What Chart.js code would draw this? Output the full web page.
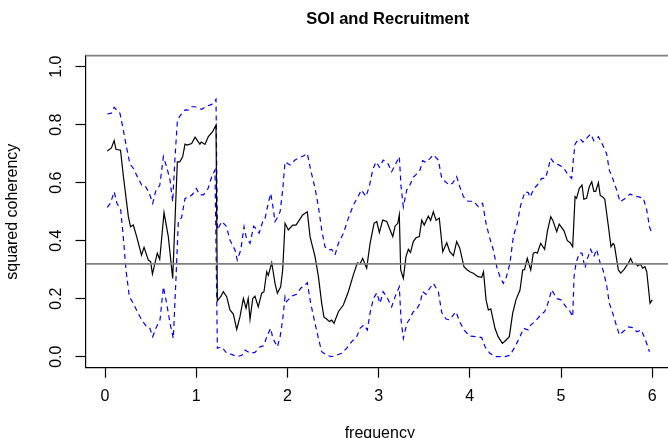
<!DOCTYPE html>
<html>
<head>
<meta charset="utf-8">
<title>SOI and Recruitment</title>
<script src="https://cdn.jsdelivr.net/npm/chart.js@4"></script>
<style>
  html, body { margin: 0; padding: 0; background: #fff; }
  #graphe { display: block; }
</style>
</head>
<body>
<canvas id="graphe" width="668" height="438"></canvas>
<script>
// Cohérence au carré SOI / Recrutement, avec bandes de confiance
// (tirets bleus) et seuil de significativité (trait gris).

const FONTE = "'Liberation Sans', Arial, Helvetica, sans-serif"
const NOIR  = '#000000'
const BLEU  = '#0000FF'
const GRIS  = '#808080'

const xTicks = [0, 1, 2, 3, 4, 5, 6]
const yTicks = [0, 0.2, 0.4, 0.6, 0.8, 1.0]
const seuil = 0.32

// étendue de la région de tracé (le bord droit est coupé par le cadre)
const xMin = -0.214, xMax = 6.173, xDroitePlot = 6.239
const yMin = -0.038, yMax = 1.038

const cohFreq = [0.025, 0.07, 0.10, 0.12, 0.17, 0.20, 0.256, 0.28, 0.31, 0.347, 0.40, 0.428, 0.475, 0.50, 0.52,
  0.573, 0.60, 0.647, 0.694, 0.742, 0.793, 0.82, 0.852, 0.877, 0.90, 0.95, 0.987, 1.04, 1.055, 1.096, 1.133,
  1.18, 1.217, 1.232, 1.268, 1.297, 1.334, 1.37, 1.407, 1.444, 1.48, 1.517, 1.546, 1.57, 1.59, 1.62, 1.644,
  1.68, 1.718, 1.743, 1.773, 1.79, 1.828, 1.864, 1.89, 1.926, 1.948, 1.974, 2.01, 2.058, 2.094, 2.13, 2.167,
  2.218, 2.248, 2.303, 2.34, 2.376, 2.401, 2.43, 2.46, 2.485, 2.511, 2.559, 2.613, 2.668, 2.723, 2.767, 2.796,
  2.825, 2.869, 2.906, 2.95, 2.98, 3.008, 3.045, 3.089, 3.11, 3.155, 3.18, 3.21, 3.227, 3.242, 3.271, 3.30,
  3.326, 3.35, 3.38, 3.41, 3.446, 3.473, 3.50, 3.545, 3.57, 3.60, 3.63, 3.665, 3.703, 3.747, 3.78, 3.82,
  3.856, 3.89, 3.936, 3.97, 4.0, 4.038, 4.09, 4.13, 4.15, 4.178, 4.203, 4.23, 4.276, 4.31, 4.357, 4.39,
  4.433, 4.47, 4.506, 4.55, 4.58, 4.60, 4.63, 4.668, 4.696, 4.72, 4.74, 4.777, 4.80, 4.82, 4.85, 4.887,
  4.91, 4.953, 4.98, 5.033, 5.069, 5.10, 5.128, 5.154, 5.17, 5.20, 5.23, 5.25, 5.28, 5.31, 5.337, 5.36,
  5.38, 5.41, 5.43, 5.46, 5.48, 5.52, 5.548, 5.57, 5.585, 5.629, 5.655, 5.69, 5.738, 5.763, 5.79, 5.82,
  5.84, 5.87, 5.896, 5.92, 5.94, 5.976, 6.0]
const coh = [0.709, 0.72, 0.745, 0.715, 0.712, 0.626, 0.483, 0.448, 0.454, 0.414, 0.35, 0.377, 0.333, 0.328, 0.285,
  0.357, 0.336, 0.497, 0.414, 0.27, 0.672, 0.672, 0.69, 0.733, 0.73, 0.735, 0.757, 0.733, 0.74, 0.732, 0.759,
  0.776, 0.799, 0.193, 0.207, 0.224, 0.207, 0.161, 0.147, 0.094, 0.138, 0.201, 0.167, 0.201, 0.129, 0.201, 0.209,
  0.172, 0.219, 0.224, 0.293, 0.28, 0.324, 0.253, 0.219, 0.241, 0.299, 0.46, 0.437, 0.454, 0.454, 0.471, 0.489,
  0.50, 0.414, 0.345, 0.276, 0.184, 0.136, 0.13, 0.121, 0.126, 0.115, 0.155, 0.178, 0.224, 0.282, 0.324, 0.32,
  0.339, 0.305, 0.39, 0.46, 0.466, 0.428, 0.471, 0.466, 0.45, 0.414, 0.45, 0.46, 0.489, 0.299, 0.27, 0.345,
  0.37, 0.36, 0.397, 0.41, 0.414, 0.471, 0.454, 0.485, 0.47, 0.50, 0.47, 0.478, 0.362, 0.393, 0.362, 0.348,
  0.397, 0.374, 0.31, 0.30, 0.293, 0.288, 0.276, 0.274, 0.293, 0.196, 0.161, 0.165, 0.098, 0.069, 0.046, 0.055,
  0.069, 0.15, 0.196, 0.23, 0.299, 0.30, 0.339, 0.299, 0.357, 0.36, 0.357, 0.391, 0.38, 0.37, 0.431, 0.483,
  0.47, 0.431, 0.457, 0.434, 0.40, 0.393, 0.379, 0.552, 0.546, 0.58, 0.592, 0.543, 0.546, 0.586, 0.603, 0.57,
  0.57, 0.60, 0.556, 0.55, 0.543, 0.448, 0.379, 0.39, 0.385, 0.299, 0.288, 0.30, 0.322, 0.339, 0.32, 0.322,
  0.313, 0.32, 0.305, 0.31, 0.293, 0.184, 0.196]

const hautFreq = [0.025, 0.07, 0.10, 0.164, 0.194, 0.238, 0.274, 0.31, 0.354, 0.402, 0.44, 0.486, 0.523, 0.559,
  0.60, 0.64, 0.68, 0.713, 0.742, 0.768, 0.793, 0.82, 0.877, 0.91, 0.95, 0.987, 1.06, 1.115, 1.17, 1.217,
  1.232, 1.28, 1.33, 1.37, 1.425, 1.45, 1.49, 1.524, 1.55, 1.59, 1.63, 1.66, 1.69, 1.729, 1.75, 1.79, 1.817,
  1.84, 1.864, 1.89, 1.92, 1.948, 1.974, 2.03, 2.083, 2.13, 2.174, 2.218, 2.255, 2.303, 2.34, 2.376, 2.412,
  2.448, 2.485, 2.522, 2.559, 2.613, 2.668, 2.723, 2.778, 2.81, 2.862, 2.90, 2.935, 2.971, 3.01, 3.05, 3.10,
  3.143, 3.19, 3.227, 3.246, 3.271, 3.308, 3.34, 3.38, 3.41, 3.454, 3.483, 3.52, 3.564, 3.60, 3.655, 3.692,
  3.73, 3.775, 3.81, 3.856, 3.89, 3.93, 3.98, 4.04, 4.093, 4.14, 4.178, 4.214, 4.258, 4.295, 4.33, 4.367,
  4.40, 4.44, 4.477, 4.52, 4.558, 4.605, 4.64, 4.66, 4.704, 4.74, 4.788, 4.83, 4.86, 4.887, 4.92, 4.96,
  5.025, 5.08, 5.117, 5.135, 5.154, 5.19, 5.22, 5.24, 5.27, 5.325, 5.36, 5.41, 5.457, 5.50, 5.529, 5.573,
  5.61, 5.647, 5.70, 5.757, 5.80, 5.84, 5.903, 5.94, 5.97, 5.99]
const haut = [0.837, 0.84, 0.86, 0.839, 0.793, 0.719, 0.664, 0.65, 0.621, 0.592, 0.59, 0.563, 0.529, 0.575,
  0.59, 0.69, 0.65, 0.609, 0.534, 0.69, 0.81, 0.83, 0.851, 0.85, 0.862, 0.862, 0.853, 0.864, 0.87, 0.888,
  0.437, 0.466, 0.45, 0.402, 0.368, 0.333, 0.37, 0.448, 0.41, 0.391, 0.45, 0.44, 0.426, 0.466, 0.47, 0.529, 0.563,
  0.52, 0.466, 0.48, 0.50, 0.575, 0.672, 0.661, 0.678, 0.686, 0.692, 0.701, 0.644, 0.581, 0.517, 0.437, 0.379,
  0.368, 0.37, 0.351, 0.391, 0.425, 0.477, 0.523, 0.554, 0.575, 0.552, 0.59, 0.644, 0.672, 0.653, 0.678, 0.667,
  0.638, 0.667, 0.69, 0.586, 0.517, 0.575, 0.59, 0.619, 0.628, 0.644, 0.676, 0.67, 0.684, 0.696, 0.678, 0.615,
  0.604, 0.592, 0.598, 0.621, 0.586, 0.552, 0.536, 0.536, 0.517, 0.529, 0.46, 0.414, 0.368, 0.31, 0.276, 0.253,
  0.274, 0.322, 0.414, 0.46, 0.523, 0.569, 0.566, 0.55, 0.58, 0.592, 0.615, 0.615, 0.65, 0.684, 0.67, 0.664,
  0.653, 0.626, 0.615, 0.68, 0.733, 0.75, 0.748, 0.74, 0.75, 0.768, 0.745, 0.759, 0.73, 0.70, 0.644, 0.609,
  0.575, 0.534, 0.545, 0.561, 0.555, 0.552, 0.546, 0.506, 0.448, 0.431]

const basFreq = [0.025, 0.06, 0.10, 0.13, 0.172, 0.20, 0.23, 0.267, 0.31, 0.354, 0.402, 0.457, 0.49, 0.523,
  0.56, 0.603, 0.64, 0.676, 0.713, 0.749, 0.779, 0.804, 0.84, 0.877, 0.92, 0.96, 1.0, 1.04, 1.08, 1.13,
  1.17, 1.206, 1.232, 1.28, 1.334, 1.39, 1.444, 1.50, 1.535, 1.59, 1.644, 1.70, 1.743, 1.773, 1.817, 1.84,
  1.89, 1.92, 1.948, 1.974, 1.99, 2.046, 2.10, 2.146, 2.19, 2.218, 2.255, 2.303, 2.34, 2.376, 2.43, 2.485,
  2.54, 2.595, 2.65, 2.705, 2.76, 2.796, 2.84, 2.876, 2.906, 2.942, 2.98, 3.015, 3.05, 3.10, 3.143, 3.19,
  3.227, 3.246, 3.271, 3.31, 3.34, 3.38, 3.41, 3.454, 3.483, 3.52, 3.56, 3.60, 3.655, 3.692, 3.74, 3.775,
  3.848, 3.89, 3.936, 4.0, 4.075, 4.13, 4.167, 4.22, 4.276, 4.33, 4.386, 4.44, 4.496, 4.55, 4.59, 4.64,
  4.67, 4.715, 4.777, 4.82, 4.85, 4.898, 4.953, 5.0, 5.055, 5.09, 5.128, 5.143, 5.164, 5.20, 5.23, 5.263,
  5.29, 5.325, 5.36, 5.39, 5.43, 5.46, 5.50, 5.53, 5.567, 5.60, 5.64, 5.68, 5.74, 5.79, 5.83, 5.88, 5.92, 5.97]
const bas = [0.515, 0.53, 0.569, 0.53, 0.506, 0.414, 0.299, 0.207, 0.184, 0.155, 0.127, 0.103, 0.10, 0.069,
  0.10, 0.127, 0.241, 0.184, 0.115, 0.063, 0.276, 0.466, 0.48, 0.546, 0.55, 0.56, 0.58, 0.558, 0.558, 0.58,
  0.621, 0.644, 0.029, 0.034, 0.012, 0.008, 0.0, 0.005, 0.023, 0.012, 0.015, 0.034, 0.038, 0.069, 0.098, 0.063,
  0.034, 0.069, 0.127, 0.207, 0.19, 0.209, 0.215, 0.236, 0.247, 0.255, 0.184, 0.115, 0.063, 0.017, 0.005, 0.0,
  0.005, 0.012, 0.029, 0.052, 0.069, 0.098, 0.11, 0.092, 0.15, 0.20, 0.22, 0.184, 0.224, 0.20, 0.172, 0.215,
  0.241, 0.127, 0.063, 0.115, 0.13, 0.155, 0.16, 0.184, 0.224, 0.215, 0.236, 0.253, 0.224, 0.152, 0.13, 0.127,
  0.155, 0.12, 0.092, 0.071, 0.069, 0.066, 0.034, 0.012, 0.0, 0.0, 0.0, 0.005, 0.034, 0.069, 0.098, 0.092,
  0.11, 0.121, 0.144, 0.155, 0.178, 0.231, 0.20, 0.196, 0.172, 0.161, 0.138, 0.276, 0.322, 0.357, 0.357, 0.305,
  0.339, 0.37, 0.345, 0.37, 0.322, 0.30, 0.247, 0.184, 0.15, 0.115, 0.075, 0.086, 0.103, 0.10, 0.086, 0.092, 0.063, 0.017]

const points = (fx, fy) => fx.map((f, i) => ({ x: f, y: fy[i] }))

// Textes et traits qui ne sont pas des jeux de données : titre,
// titres d'axes, graduations verticales tournées, bord haut gris.
const habillage = {
  id: 'habillage',
  afterDraw(chart) {
    const { ctx, chartArea: a, scales: { x, y } } = chart
    const centreX = (x.getPixelForValue(xMin) + x.getPixelForValue(xDroitePlot)) / 2
    const centreY = (a.top + a.bottom) / 2
    ctx.save()

    ctx.strokeStyle = GRIS
    ctx.lineWidth = 1.7
    ctx.beginPath()
    ctx.moveTo(a.left, a.top)
    ctx.lineTo(a.right, a.top)
    ctx.stroke()

    ctx.fillStyle = NOIR
    ctx.textAlign = 'center'
    ctx.textBaseline = 'alphabetic'

    // le titre est un peu décalé à droite du centre de la zone
    ctx.font = `bold 16.5px ${FONTE}`
    ctx.fillText('SOI and Recruitment', centreX + 8, 24)

    ctx.font = `16px ${FONTE}`
    ctx.fillText('frequency', centreX, 437.5)

    yTicks.forEach(v => {
      ctx.save()
      ctx.translate(60.5, y.getPixelForValue(v))
      ctx.rotate(-Math.PI / 2)
      ctx.fillText(v.toFixed(1), 0, 0)
      ctx.restore()
    })

    ctx.save()
    ctx.translate(17, centreY)
    ctx.rotate(-Math.PI / 2)
    ctx.fillText('squared coherency', 0, 0)
    ctx.restore()

    ctx.restore()
  },
}

const ligne = (data, couleur, largeur, tirets, ordre) => ({
  data, borderColor: couleur, borderWidth: largeur, borderDash: tirets,
  pointRadius: 0, tension: 0, fill: false, order: ordre,
})

new Chart(document.getElementById('graphe').getContext('2d'), {
  type: 'line',
  data: {
    datasets: [
      ligne([{ x: xMin, y: seuil }, { x: xMax, y: seuil }], GRIS, 1.7, [], 0),
      ligne(points(cohFreq, coh), NOIR, 1.2, [], 1),
      ligne(points(hautFreq, haut), BLEU, 1.2, [5, 4], 2),
      ligne(points(basFreq, bas), BLEU, 1.2, [5, 4], 2),
    ],
  },
  options: {
    responsive: false,
    animation: false,
    devicePixelRatio: 1,
    events: [],
    layout: { padding: { top: 55.7, left: 0, right: 0, bottom: 0 } },
    plugins: {
      legend: { display: false },
      title: { display: false },
      tooltip: { enabled: false },
    },
    scales: {
      x: {
        type: 'linear',
        min: xMin, max: xMax,
        afterBuildTicks: s => { s.ticks = xTicks.map(v => ({ value: v })) },
        afterFit: s => { s.height = 70.3 },
        ticks: {
          color: NOIR, font: { family: FONTE, size: 16 }, padding: 9,
          maxRotation: 0, autoSkip: false, callback: v => String(v),
        },
        grid: { drawOnChartArea: false, drawTicks: true, tickLength: 10, tickColor: NOIR, tickWidth: 1.2 },
        border: { display: true, color: NOIR, width: 1.2 },
      },
      y: {
        type: 'linear',
        min: yMin, max: yMax,
        afterBuildTicks: s => { s.ticks = yTicks.map(v => ({ value: v })) },
        afterFit: s => { s.width = 85.5 },
        ticks: { display: false },
        grid: { drawOnChartArea: false, drawTicks: true, tickLength: 10, tickColor: NOIR, tickWidth: 1.2 },
        border: { display: true, color: NOIR, width: 1.2 },
      },
    },
  },
  plugins: [habillage],
})
</script>
</body>
</html>
